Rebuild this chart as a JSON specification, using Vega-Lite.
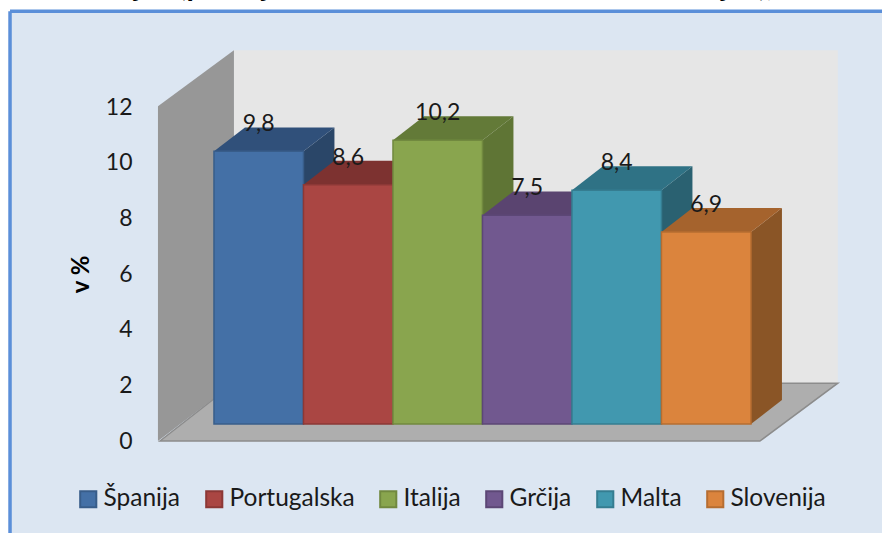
{
"$schema":"https://vega.github.io/schema/vega-lite/v6.json",
"width":882,"height":533,"padding":0,"autosize":{"type":"none"},
"background":"#ffffff",
"config":{"view":{"stroke":null},"font":"Lato"},
"datasets":{
 "bars":[
  {"name":"Španija","value":9.8,"order":0,"top":"#30507a","side":"#2a4668"},
  {"name":"Portugalska","value":8.6,"order":1,"top":"#7d3230","side":"#6e2c2a"},
  {"name":"Italija","value":10.2,"order":2,"top":"#637a38","side":"#5f7535"},
  {"name":"Grčija","value":7.5,"order":3,"top":"#5a4470","side":"#503d64"},
  {"name":"Malta","value":8.4,"order":4,"top":"#2f7285","side":"#2a6171"},
  {"name":"Slovenija","value":6.9,"order":5,"top":"#a5632d","side":"#8a5526"}
 ],
 "wall":[{"x":-0.626,"lo":0,"hi":12.03},{"x":0.223,"lo":2.08,"hi":14.04}],
 "floor":[{"x":-0.603,"lo":0,"hi":0},{"x":0.223,"lo":0,"hi":2.08},{"x":6.1,"lo":0,"hi":2.08},{"x":6.97,"lo":2.08,"hi":2.08}],
 "edge":[{"k":0}]
},
"layer":[
 {"data":{"name":"edge"},"mark":{"type":"rect","fill":"#dce6f2"},
  "encoding":{"x":{"datum":-2.279,"type":"quantitative","scale":{"domain":[-2.391,7.464],"nice":false,"zero":false},"axis":null},"x2":{"datum":7.464},
   "y":{"datum":15.45,"type":"quantitative","scale":{"domain":[-3.306,15.85],"nice":false,"zero":false},"axis":{"values":[0,2,4,6,8,10,12],"zindex":1,"domain":false,"ticks":false,"grid":false,"orient":"left","offset":-132,"labelFontSize":23,"labelColor":"#1a1a1a","labelFont":"Lato","labelPadding":0,"title":"v %","titleFontSize":24,"titleFont":"Lato","titleFontWeight":"bold","titleColor":"#000000","titlePadding":12,"titleY":274}},"y2":{"datum":-3.306}}},
 {"data":{"name":"edge"},"mark":{"type":"rule","stroke":"#5b8fd9","strokeWidth":3.5},
  "encoding":{"x":{"datum":-2.279,"type":"quantitative"},"x2":{"datum":7.464},"y":{"datum":15.45,"type":"quantitative"}}},
 {"data":{"name":"edge"},"mark":{"type":"rule","stroke":"#5b8fd9","strokeWidth":3.5},
  "encoding":{"x":{"datum":-2.279,"type":"quantitative"},"y":{"datum":15.45,"type":"quantitative"},"y2":{"datum":-3.306}}},
 {"data":{"name":"edge"},"mark":{"type":"rect","fill":"#e6e6e6"},
  "encoding":{"x":{"datum":0.223,"type":"quantitative"},"x2":{"datum":6.97},"y":{"datum":14.04,"type":"quantitative"},"y2":{"datum":2.08}}},
 {"data":{"name":"wall"},"mark":{"type":"area","fill":"#979797"},
  "encoding":{"x":{"field":"x","type":"quantitative"},"y":{"field":"lo","type":"quantitative"},"y2":{"field":"hi"}}},
 {"data":{"name":"floor"},"mark":{"type":"area","fill":"#aeaeae","stroke":"#8c8c8c","strokeWidth":1.5},
  "encoding":{"x":{"field":"x","type":"quantitative"},"y":{"field":"lo","type":"quantitative"},"y2":{"field":"hi"}}},
 {"data":{"name":"bars"},
  "transform":[
   {"calculate":"[0,1]","as":"k"},{"flatten":["k"]},
   {"calculate":"datum.order+1+datum.k*0.346","as":"px"},
   {"calculate":"0.61+datum.k*0.862","as":"lo"},
   {"calculate":"datum.value+0.61+datum.k*0.862","as":"hi"}],
  "mark":{"type":"area"},
  "encoding":{"detail":{"field":"name"},"x":{"field":"px","type":"quantitative"},"y":{"field":"lo","type":"quantitative"},"y2":{"field":"hi"},
   "fill":{"field":"side","type":"nominal","scale":null}}},
 {"data":{"name":"bars"},
  "transform":[
   {"calculate":"[0,1,2,3]","as":"k"},{"flatten":["k"]},
   {"calculate":"datum.order+(datum.k==0?0:datum.k==1?0.346:datum.k==2?1:1.346)","as":"px"},
   {"calculate":"datum.value+0.61+(datum.k==3?0.862:0)","as":"lo"},
   {"calculate":"datum.value+0.61+(datum.k==0?0:0.862)","as":"hi"}],
  "mark":{"type":"area"},
  "encoding":{"detail":{"field":"name"},"x":{"field":"px","type":"quantitative"},"y":{"field":"lo","type":"quantitative"},"y2":{"field":"hi"},
   "fill":{"field":"top","type":"nominal","scale":null}}},
 {"data":{"name":"bars"},
  "transform":[{"calculate":"datum.order+1","as":"x1"},{"calculate":"datum.value+0.61","as":"t"}],
  "mark":{"type":"rect","strokeWidth":1.5},
  "encoding":{"x":{"field":"order","type":"quantitative"},"x2":{"field":"x1"},"y":{"field":"t","type":"quantitative"},"y2":{"datum":0.61},
   "stroke":{"field":"name","type":"nominal","sort":null,
    "scale":{"domain":["Španija","Portugalska","Italija","Grčija","Malta","Slovenija"],"range":["#385d8a","#8c3836","#71893f","#5c4776","#357d91","#b66d31"]},"legend":null},
   "fill":{"field":"name","type":"nominal","sort":null,
    "scale":{"domain":["Španija","Portugalska","Italija","Grčija","Malta","Slovenija"],"range":["#4470a6","#aa4643","#89a54e","#71588f","#4198af","#db843d"]},
    "legend":{"orient":"none","legendX":76,"legendY":487,"direction":"horizontal","columns":6,"title":null,"symbolType":"square","symbolSize":260,"symbolStrokeWidth":2,"labelFontSize":24.5,"labelFont":"Lato","labelColor":"#1a1a1a","labelOffset":3,"columnPadding":21,"gridAlign":"none","symbolOpacity":1}}}},
 {"data":{"name":"bars"},
  "transform":[{"calculate":"datum.order+0.5","as":"cx"},{"calculate":"datum.value+1.58","as":"ly"},{"calculate":"replace(format(datum.value,'.1f'),'.',',')","as":"label"}],
  "mark":{"type":"text","fontSize":23,"font":"Lato","color":"#1a1a1a","baseline":"middle","align":"center"},
  "encoding":{"x":{"field":"cx","type":"quantitative"},"y":{"field":"ly","type":"quantitative"},"text":{"field":"label"}}},
 {"data":{"name":"edge"},
  "mark":{"type":"text","fontSize":30,"font":"Lato","fontWeight":"bold","color":"#000000","align":"left","baseline":"alphabetic"},
  "encoding":{"x":{"datum":-0.89,"type":"quantitative"},"y":{"datum":15.99,"type":"quantitative"},
   "text":{"value":"j\u00a0\u00a0\u00a0\u00a0\u00a0(p\u00a0\u00a0\u00a0\u00a0\u00a0\u00a0\u00a0\u00a0j\u00a0\u00a0\u00a0\u00a0\u00a0\u00a0\u00a0\u00a0\u00a0\u00a0\u00a0\u00a0\u00a0\u00a0\u00a0\u00a0\u00a0\u00a0\u00a0\u00a0\u00a0\u00a0\u00a0\u00a0\u00a0\u00a0\u00a0\u00a0\u00a0\u00a0\u00a0\u00a0\u00a0\u00a0\u00a0\u00a0\u00a0\u00a0\u00a0\u00a0\u00a0\u00a0\u00a0\u00a0\u00a0\u00a0\u00a0\u00a0\u00a0\u00a0\u00a0\u00a0\u00a0\u00a0\u00a0\u00a0\u00a0\u00a0\u00a0\u00a0\u00a0\u00a0j\u00a0\u00a0\u00a0\u00a0),"}}}
]
}
